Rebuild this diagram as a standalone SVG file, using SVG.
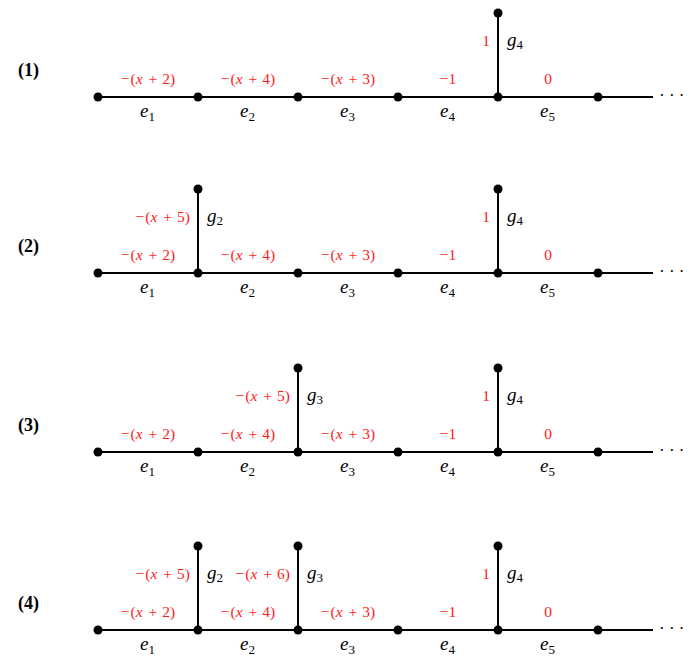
<svg xmlns="http://www.w3.org/2000/svg" width="698" height="669" viewBox="0 0 698 669" font-family="Liberation Serif, Times New Roman, DejaVu Serif, serif">
<style>
text{font-family:"Liberation Serif","Times New Roman","DejaVu Serif",serif}
.ln{stroke:#000;stroke-width:2;fill:none}
.nd{fill:#000}
.rl{font-size:18px;font-weight:bold;fill:#000}
.w{font-size:15.5px;fill:#ff1a1a;text-anchor:middle}
.we{font-size:15.5px;fill:#ff1a1a;text-anchor:end}
.m{font-size:19px;fill:#000;font-style:italic}
.s{font-size:13px;font-style:normal}
.i{font-style:italic}
.dots{font-size:17px;fill:#000}
</style>
<rect width="698" height="669" fill="#fff"/>
<defs>
<circle id="dot" r="4.5" class="nd"/>
</defs>

<!-- Row 1 -->
<g id="row1" transform="translate(0,97)">
  <text class="rl" x="18" y="-21">(1)</text>
  <g id="r1-connectors">
    <line class="ln" x1="98" y1="0" x2="653" y2="0"/>
    <line class="ln" x1="498" y1="0" x2="498" y2="-84"/>
  </g>
  <g id="r1-n1"><use href="#dot" x="98" y="0"/></g>
  <g id="r1-n2"><use href="#dot" x="198" y="0"/></g>
  <g id="r1-n3"><use href="#dot" x="298" y="0"/></g>
  <g id="r1-n4"><use href="#dot" x="398" y="0"/></g>
  <g id="r1-n5"><use href="#dot" x="498" y="0"/></g>
  <g id="r1-n6"><use href="#dot" x="598" y="0"/></g>
  <g id="r1-g4"><use href="#dot" x="498" y="-84"/></g>
  <text class="w" x="148" y="-13">−<tspan dx="1">(</tspan><tspan class="i">x</tspan><tspan dx="6">+</tspan><tspan dx="5">2)</tspan></text>
  <text class="w" x="248" y="-13">−<tspan dx="1">(</tspan><tspan class="i">x</tspan><tspan dx="6">+</tspan><tspan dx="5">4)</tspan></text>
  <text class="w" x="348" y="-13">−<tspan dx="1">(</tspan><tspan class="i">x</tspan><tspan dx="6">+</tspan><tspan dx="5">3)</tspan></text>
  <text class="w" x="448" y="-13">−1</text>
  <text class="w" x="548" y="-13">0</text>
  <text class="we" x="490" y="-51">1</text>
  <text class="m" x="507" y="-51">g<tspan class="s" dy="3">4</tspan></text>
  <text class="m" x="140" y="20">e<tspan class="s" dy="4">1</tspan></text>
  <text class="m" x="240" y="20">e<tspan class="s" dy="4">2</tspan></text>
  <text class="m" x="340" y="20">e<tspan class="s" dy="4">3</tspan></text>
  <text class="m" x="440" y="20">e<tspan class="s" dy="4">4</tspan></text>
  <text class="m" x="540" y="20">e<tspan class="s" dy="4">5</tspan></text>
  <text class="dots" x="659" y="4">· · ·</text>
</g>

<!-- Row 2 -->
<g id="row2" transform="translate(0,273)">
  <text class="rl" x="18" y="-21">(2)</text>
  <g id="r2-connectors">
    <line class="ln" x1="98" y1="0" x2="653" y2="0"/>
    <line class="ln" x1="198" y1="0" x2="198" y2="-84"/>
    <line class="ln" x1="498" y1="0" x2="498" y2="-84"/>
  </g>
  <g id="r2-n1"><use href="#dot" x="98" y="0"/></g>
  <g id="r2-n2"><use href="#dot" x="198" y="0"/></g>
  <g id="r2-n3"><use href="#dot" x="298" y="0"/></g>
  <g id="r2-n4"><use href="#dot" x="398" y="0"/></g>
  <g id="r2-n5"><use href="#dot" x="498" y="0"/></g>
  <g id="r2-n6"><use href="#dot" x="598" y="0"/></g>
  <g id="r2-g2"><use href="#dot" x="198" y="-84"/></g>
  <g id="r2-g4"><use href="#dot" x="498" y="-84"/></g>
  <text class="w" x="148" y="-13">−<tspan dx="1">(</tspan><tspan class="i">x</tspan><tspan dx="6">+</tspan><tspan dx="5">2)</tspan></text>
  <text class="w" x="248" y="-13">−<tspan dx="1">(</tspan><tspan class="i">x</tspan><tspan dx="6">+</tspan><tspan dx="5">4)</tspan></text>
  <text class="w" x="348" y="-13">−<tspan dx="1">(</tspan><tspan class="i">x</tspan><tspan dx="6">+</tspan><tspan dx="5">3)</tspan></text>
  <text class="w" x="448" y="-13">−1</text>
  <text class="w" x="548" y="-13">0</text>
  <text class="we" x="190" y="-51">−<tspan dx="1">(</tspan><tspan class="i">x</tspan><tspan dx="6">+</tspan><tspan dx="5">5)</tspan></text>
  <text class="m" x="207" y="-51">g<tspan class="s" dy="3">2</tspan></text>
  <text class="we" x="490" y="-51">1</text>
  <text class="m" x="507" y="-51">g<tspan class="s" dy="3">4</tspan></text>
  <text class="m" x="140" y="20">e<tspan class="s" dy="4">1</tspan></text>
  <text class="m" x="240" y="20">e<tspan class="s" dy="4">2</tspan></text>
  <text class="m" x="340" y="20">e<tspan class="s" dy="4">3</tspan></text>
  <text class="m" x="440" y="20">e<tspan class="s" dy="4">4</tspan></text>
  <text class="m" x="540" y="20">e<tspan class="s" dy="4">5</tspan></text>
  <text class="dots" x="659" y="4">· · ·</text>
</g>

<!-- Row 3 -->
<g id="row3" transform="translate(0,452)">
  <text class="rl" x="18" y="-21">(3)</text>
  <g id="r3-connectors">
    <line class="ln" x1="98" y1="0" x2="653" y2="0"/>
    <line class="ln" x1="298" y1="0" x2="298" y2="-84"/>
    <line class="ln" x1="498" y1="0" x2="498" y2="-84"/>
  </g>
  <g id="r3-n1"><use href="#dot" x="98" y="0"/></g>
  <g id="r3-n2"><use href="#dot" x="198" y="0"/></g>
  <g id="r3-n3"><use href="#dot" x="298" y="0"/></g>
  <g id="r3-n4"><use href="#dot" x="398" y="0"/></g>
  <g id="r3-n5"><use href="#dot" x="498" y="0"/></g>
  <g id="r3-n6"><use href="#dot" x="598" y="0"/></g>
  <g id="r3-g3"><use href="#dot" x="298" y="-84"/></g>
  <g id="r3-g4"><use href="#dot" x="498" y="-84"/></g>
  <text class="w" x="148" y="-13">−<tspan dx="1">(</tspan><tspan class="i">x</tspan><tspan dx="6">+</tspan><tspan dx="5">2)</tspan></text>
  <text class="w" x="248" y="-13">−<tspan dx="1">(</tspan><tspan class="i">x</tspan><tspan dx="6">+</tspan><tspan dx="5">4)</tspan></text>
  <text class="w" x="348" y="-13">−<tspan dx="1">(</tspan><tspan class="i">x</tspan><tspan dx="6">+</tspan><tspan dx="5">3)</tspan></text>
  <text class="w" x="448" y="-13">−1</text>
  <text class="w" x="548" y="-13">0</text>
  <text class="we" x="290" y="-51">−<tspan dx="1">(</tspan><tspan class="i">x</tspan><tspan dx="6">+</tspan><tspan dx="5">5)</tspan></text>
  <text class="m" x="307" y="-51">g<tspan class="s" dy="3">3</tspan></text>
  <text class="we" x="490" y="-51">1</text>
  <text class="m" x="507" y="-51">g<tspan class="s" dy="3">4</tspan></text>
  <text class="m" x="140" y="20">e<tspan class="s" dy="4">1</tspan></text>
  <text class="m" x="240" y="20">e<tspan class="s" dy="4">2</tspan></text>
  <text class="m" x="340" y="20">e<tspan class="s" dy="4">3</tspan></text>
  <text class="m" x="440" y="20">e<tspan class="s" dy="4">4</tspan></text>
  <text class="m" x="540" y="20">e<tspan class="s" dy="4">5</tspan></text>
  <text class="dots" x="659" y="4">· · ·</text>
</g>

<!-- Row 4 -->
<g id="row4" transform="translate(0,630)">
  <text class="rl" x="18" y="-21">(4)</text>
  <g id="r4-connectors">
    <line class="ln" x1="98" y1="0" x2="653" y2="0"/>
    <line class="ln" x1="198" y1="0" x2="198" y2="-84"/>
    <line class="ln" x1="298" y1="0" x2="298" y2="-84"/>
    <line class="ln" x1="498" y1="0" x2="498" y2="-84"/>
  </g>
  <g id="r4-n1"><use href="#dot" x="98" y="0"/></g>
  <g id="r4-n2"><use href="#dot" x="198" y="0"/></g>
  <g id="r4-n3"><use href="#dot" x="298" y="0"/></g>
  <g id="r4-n4"><use href="#dot" x="398" y="0"/></g>
  <g id="r4-n5"><use href="#dot" x="498" y="0"/></g>
  <g id="r4-n6"><use href="#dot" x="598" y="0"/></g>
  <g id="r4-g2"><use href="#dot" x="198" y="-84"/></g>
  <g id="r4-g3"><use href="#dot" x="298" y="-84"/></g>
  <g id="r4-g4"><use href="#dot" x="498" y="-84"/></g>
  <text class="w" x="148" y="-13">−<tspan dx="1">(</tspan><tspan class="i">x</tspan><tspan dx="6">+</tspan><tspan dx="5">2)</tspan></text>
  <text class="w" x="248" y="-13">−<tspan dx="1">(</tspan><tspan class="i">x</tspan><tspan dx="6">+</tspan><tspan dx="5">4)</tspan></text>
  <text class="w" x="348" y="-13">−<tspan dx="1">(</tspan><tspan class="i">x</tspan><tspan dx="6">+</tspan><tspan dx="5">3)</tspan></text>
  <text class="w" x="448" y="-13">−1</text>
  <text class="w" x="548" y="-13">0</text>
  <text class="we" x="190" y="-51">−<tspan dx="1">(</tspan><tspan class="i">x</tspan><tspan dx="6">+</tspan><tspan dx="5">5)</tspan></text>
  <text class="m" x="207" y="-51">g<tspan class="s" dy="3">2</tspan></text>
  <text class="we" x="290" y="-51">−<tspan dx="1">(</tspan><tspan class="i">x</tspan><tspan dx="6">+</tspan><tspan dx="5">6)</tspan></text>
  <text class="m" x="307" y="-51">g<tspan class="s" dy="3">3</tspan></text>
  <text class="we" x="490" y="-51">1</text>
  <text class="m" x="507" y="-51">g<tspan class="s" dy="3">4</tspan></text>
  <text class="m" x="140" y="20">e<tspan class="s" dy="4">1</tspan></text>
  <text class="m" x="240" y="20">e<tspan class="s" dy="4">2</tspan></text>
  <text class="m" x="340" y="20">e<tspan class="s" dy="4">3</tspan></text>
  <text class="m" x="440" y="20">e<tspan class="s" dy="4">4</tspan></text>
  <text class="m" x="540" y="20">e<tspan class="s" dy="4">5</tspan></text>
  <text class="dots" x="659" y="4">· · ·</text>
</g>
</svg>
